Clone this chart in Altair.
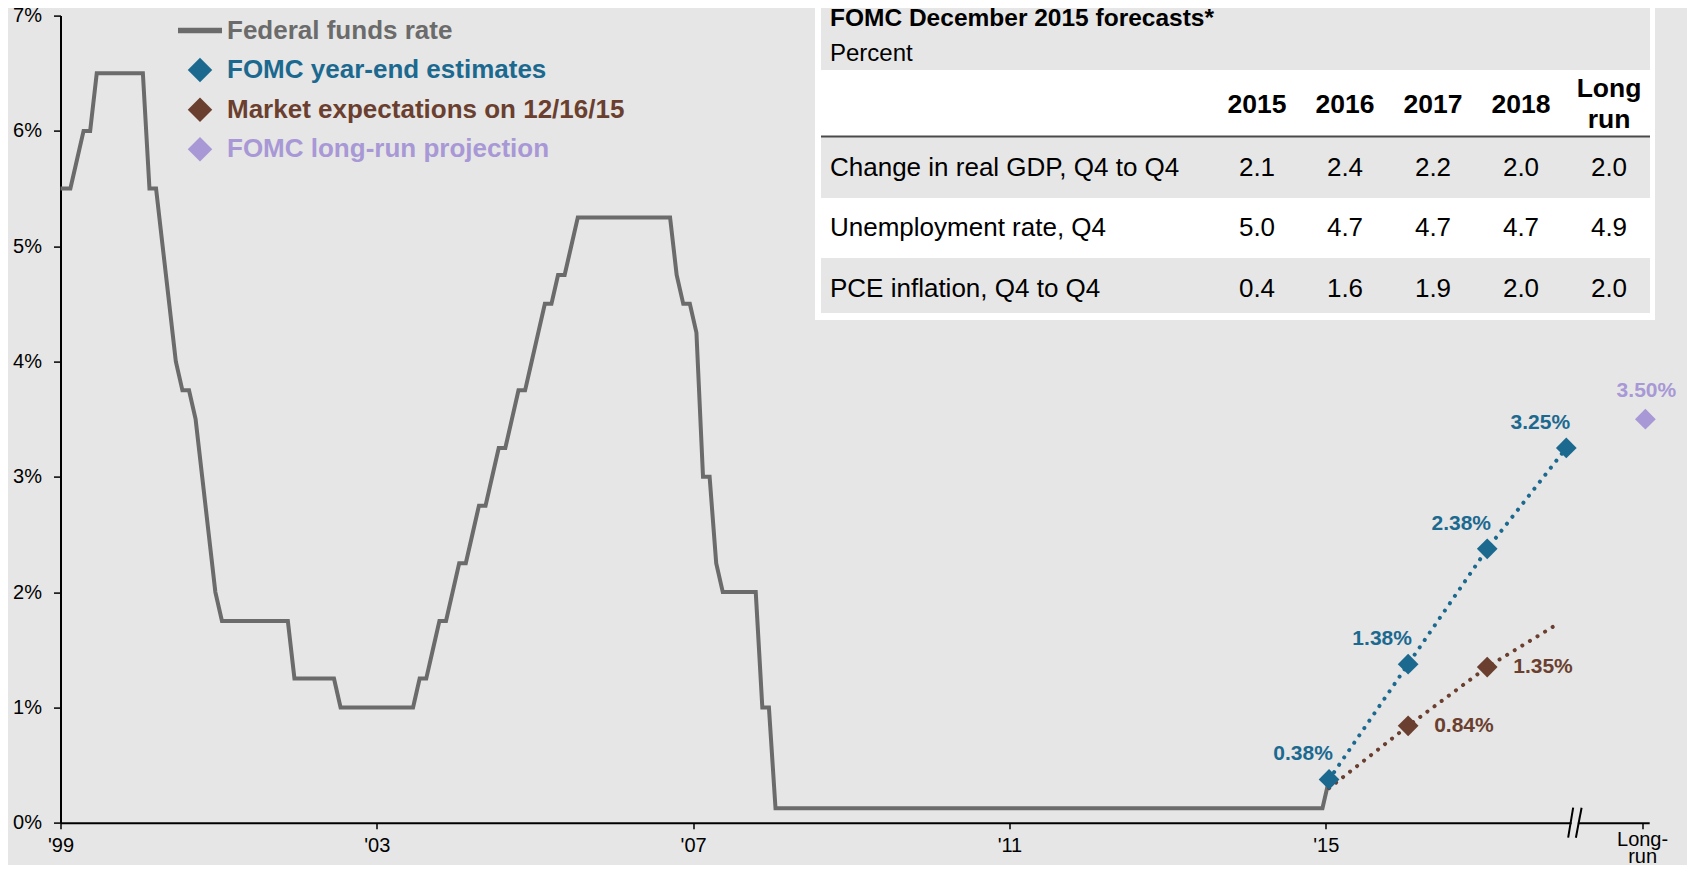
import json
import altair as alt
import pandas as pd

FONT = "Liberation Sans"
BG = "#e6e6e6"
GRAY = "#6b6b6b"
BLUE = "#1c6990"
BROWN = "#6b3f2f"
LAVENDER = "#a898d6"

# ---------------- data ----------------
series_names = ["Federal funds rate", "FOMC year-end estimates",
                "Market expectations on 12/16/15", "FOMC long-run projection"]
series_colors = [GRAY, BLUE, BROWN, LAVENDER]

# Federal funds target rate, month-end values (vertices of the step path)
ffr_months = ["1999-11", "2000-01", "2000-02", "2000-03", "2000-04", "2000-05", "2000-12",
              "2001-01", "2001-02", "2001-03", "2001-04", "2001-05", "2001-06", "2001-07",
              "2001-08", "2001-09", "2001-10", "2001-11", "2001-12", "2002-10", "2002-11",
              "2003-05", "2003-06", "2004-05", "2004-06", "2004-07", "2004-08", "2004-09",
              "2004-10", "2004-11", "2004-12", "2005-01", "2005-02", "2005-03", "2005-04",
              "2005-05", "2005-06", "2005-07", "2005-08", "2005-09", "2005-10", "2005-11",
              "2005-12", "2006-01", "2006-02", "2006-03", "2006-04", "2006-05", "2006-06",
              "2007-08", "2007-09", "2007-10", "2007-11", "2007-12", "2008-01", "2008-02",
              "2008-03", "2008-04", "2008-09", "2008-10", "2008-11", "2008-12", "2015-11",
              "2015-12"]
ffr_rates = [5.50, 5.50, 5.75, 6.00, 6.00, 6.50, 6.50,
             5.50, 5.50, 5.00, 4.50, 4.00, 3.75, 3.75,
             3.50, 3.00, 2.50, 2.00, 1.75, 1.75, 1.25,
             1.25, 1.00, 1.00, 1.25, 1.25, 1.50, 1.75,
             1.75, 2.00, 2.25, 2.25, 2.50, 2.75, 2.75,
             3.00, 3.25, 3.25, 3.50, 3.75, 3.75, 4.00,
             4.25, 4.50, 4.50, 4.75, 4.75, 5.00, 5.25,
             5.25, 4.75, 4.50, 4.50, 4.25, 3.00, 3.00,
             2.25, 2.00, 2.00, 1.00, 1.00, 0.125, 0.125,
             0.375]

fomc_months = ["2015-12", "2016-12", "2017-12", "2018-12"]
fomc_values = [0.375, 1.375, 2.375, 3.25]
fomc_labels = ["0.38%", "1.38%", "2.38%", "3.25%"]

market_path_months = ["2015-12", "2016-12", "2017-12", "2018-10"]
market_path_values = [0.30, 0.84, 1.35, 1.70]
market_months = ["2016-12", "2017-12"]
market_values = [0.84, 1.35]
market_labels = ["0.84%", "1.35%"]

longrun_month = "2019-12"
longrun_value = 3.50
longrun_label = "3.50%"

x_tick_values = [1999, 2003, 2007, 2011, 2015, 2019]
x_tick_labels = ["'99", "'03", "'07", "'11", "'15", ["Long-", "run"]]
y_tick_values = [0, 1, 2, 3, 4, 5, 6, 7]
y_tick_labels = ["0%", "1%", "2%", "3%", "4%", "5%", "6%", "7%"]
axis_break_at = 2018.15

table_title = "FOMC December 2015 forecasts*"
table_unit = "Percent"
table_columns = ["2015", "2016", "2017", "2018", "Long\nrun"]
table_rows = ["Change in real GDP, Q4 to Q4", "Unemployment rate, Q4", "PCE inflation, Q4 to Q4"]
gdp_values = ["2.1", "2.4", "2.2", "2.0", "2.0"]
unemployment_values = ["5.0", "4.7", "4.7", "4.7", "4.9"]
pce_values = ["0.4", "1.6", "1.9", "2.0", "2.0"]


def period_x(ym):
    y, m = ym.split("-")
    return int(y) + (int(m) - 11.5) / 12.0


ffr_df = pd.DataFrame({"x": [period_x(m) for m in ffr_months], "y": ffr_rates})
fomc_df = pd.DataFrame({"x": [period_x(m) for m in fomc_months], "y": fomc_values, "label": fomc_labels})
mkt_line_df = pd.DataFrame({"x": [period_x(m) for m in market_path_months], "y": market_path_values})
mkt_df = pd.DataFrame({"x": [period_x(m) for m in market_months], "y": market_values, "label": market_labels})
lr_df = pd.DataFrame({"x": [period_x(longrun_month)], "y": [longrun_value], "label": [longrun_label]})
brk_df = pd.DataFrame({"x": [axis_break_at], "y": [0.0]})

# ---------------- scales & axes ----------------
x_expr = "".join(f"datum.value == {v} ? {json.dumps(l)} : " for v, l in zip(x_tick_values, x_tick_labels)) + "''"
y_expr = "".join(f"datum.value == {v} ? {json.dumps(l)} : " for v, l in zip(y_tick_values, y_tick_labels)) + "''"
multi_line_test = f"datum.value == {x_tick_values[-1]}"

xscale = alt.Scale(domain=[1999, 2019.09], nice=False, zero=False)
yscale = alt.Scale(domain=[0, 7], nice=False, zero=False)
xaxis = alt.Axis(values=x_tick_values, labelExpr=x_expr, title=None, grid=False,
                 domainColor="black", domainWidth=2, tickColor="black", tickWidth=1.5,
                 tickSize=6,
                 labelPadding={"condition": {"test": multi_line_test, "value": 1}, "value": 7},
                 labelFont=FONT, labelFontSize=20,
                 labelColor="black", labelLineHeight=17, labelOverlap=False, labelFlush=False)
yaxis = alt.Axis(values=y_tick_values, labelExpr=y_expr, title=None, grid=False,
                 domainColor="black", domainWidth=2, tickColor="black", tickWidth=1.5,
                 tickSize=7, labelPadding=12, labelFont=FONT, labelFontSize=20,
                 labelColor="black", labelOverlap=False)


def X():
    return alt.X("x:Q", scale=xscale, axis=xaxis)


def Y():
    return alt.Y("y:Q", scale=yscale, axis=yaxis)


DOT = dict(strokeWidth=4, strokeDash=[0.1, 8.8], strokeCap="round")
ffr_line = alt.Chart(ffr_df).mark_line(color=GRAY, strokeWidth=4, clip=True).encode(x=X(), y=Y())
fomc_line = alt.Chart(fomc_df).mark_line(color=BLUE, **DOT).encode(x=X(), y=Y())
mkt_line = alt.Chart(mkt_line_df).mark_line(color=BROWN, **DOT).encode(x=X(), y=Y())
fomc_pts = alt.Chart(fomc_df).mark_point(shape="diamond", filled=True, size=430, color=BLUE,
                                         opacity=1).encode(x=X(), y=Y())
mkt_pts = alt.Chart(mkt_df).mark_point(shape="diamond", filled=True, size=430, color=BROWN,
                                       opacity=1).encode(x=X(), y=Y())
lr_pts = alt.Chart(lr_df).mark_point(shape="diamond", filled=True, size=430, color=LAVENDER,
                                     opacity=1).encode(x=X(), y=Y())
fomc_txt = alt.Chart(fomc_df).mark_text(font=FONT, fontSize=21, fontWeight="bold", color=BLUE,
                                        align="center", baseline="middle", dx=-26, dy=-25
                                        ).encode(x=X(), y=Y(), text="label:N")
mkt_txt = alt.Chart(mkt_df).mark_text(font=FONT, fontSize=21, fontWeight="bold", color=BROWN,
                                      align="left", baseline="middle", dx=26, dy=0
                                      ).encode(x=X(), y=Y(), text="label:N")
lr_txt = alt.Chart(lr_df).mark_text(font=FONT, fontSize=21, fontWeight="bold", color=LAVENDER,
                                    align="center", baseline="middle", dx=1, dy=-28
                                    ).encode(x=X(), y=Y(), text="label:N")

brk_gap = alt.Chart(brk_df).mark_rule(color=BG, strokeWidth=5, xOffset=-3.3, x2Offset=3.0).encode(
    x=X(), x2=alt.X2("x:Q"), y=Y())
brk1 = alt.Chart(brk_df).mark_rule(color="black", strokeWidth=2, xOffset=-6.7, x2Offset=-1.7,
                                   yOffset=15, y2Offset=-15).encode(
    x=X(), x2=alt.X2("x:Q"), y=Y(), y2=alt.Y2("y:Q"))
brk2 = alt.Chart(brk_df).mark_rule(color="black", strokeWidth=2, xOffset=1.0, x2Offset=6.7,
                                   yOffset=15, y2Offset=-15).encode(
    x=X(), x2=alt.X2("x:Q"), y=Y(), y2=alt.Y2("y:Q"))

main = alt.layer(ffr_line, fomc_line, mkt_line, fomc_pts, mkt_pts, lr_pts,
                 fomc_txt, mkt_txt, lr_txt, brk_gap, brk1, brk2)

# ---------------- table ----------------
one = pd.DataFrame({"k": [0]})
col_scale = alt.Scale(type="point", domain=table_columns, range=[1196.5, 1548.5], padding=0)
row_scale = alt.Scale(type="point", domain=table_rows, range=[152, 273], padding=0)

tbl_box = alt.Chart(one).mark_rect(color="white").encode(
    x=alt.value(754.5), x2=alt.value(1594.5), y=alt.value(-16), y2=alt.value(304.4))
tbl_head_bg = alt.Chart(one).mark_rect(color=BG).encode(
    x=alt.value(760.5), x2=alt.value(1589.5), y=alt.value(-16), y2=alt.value(54.4))
tbl_row1_bg = alt.Chart(one).mark_rect(color=BG).encode(
    x=alt.value(760.5), x2=alt.value(1589.5), y=alt.value(121.4), y2=alt.value(182.4))
tbl_row3_bg = alt.Chart(one).mark_rect(color=BG).encode(
    x=alt.value(760.5), x2=alt.value(1589.5), y=alt.value(242.4), y2=alt.value(297.4))
tbl_rule = alt.Chart(one).mark_rule(color="#4a4a4a", strokeWidth=2).encode(
    x=alt.value(760.5), x2=alt.value(1589.5), y=alt.value(121))

tbl_title = alt.Chart(pd.DataFrame({"t": [table_title]})).mark_text(
    font=FONT, fontSize=24.5, fontWeight="bold", color="black", align="left", baseline="middle"
).encode(x=alt.value(769.5), y=alt.value(3.8), text="t:N")
tbl_unit = alt.Chart(pd.DataFrame({"t": [table_unit]})).mark_text(
    font=FONT, fontSize=24, color="black", align="left", baseline="middle"
).encode(x=alt.value(769.5), y=alt.value(38.4), text="t:N")
HEAD = dict(font=FONT, fontSize=26.5, fontWeight="bold", color="black", align="center",
            baseline="middle", lineBreak="\n", lineHeight=31)
tbl_header = alt.Chart(pd.DataFrame({"col": table_columns[:4]})).mark_text(**HEAD).encode(
    x=alt.X("col:N", scale=col_scale, axis=None), y=alt.value(89.4), text="col:N")
tbl_header_lr = alt.Chart(pd.DataFrame({"col": table_columns[4:]})).mark_text(**HEAD).encode(
    x=alt.X("col:N", scale=col_scale, axis=None), y=alt.value(73.5), text="col:N")
tbl_rowlab = alt.Chart(pd.DataFrame({"row": table_rows})).mark_text(
    font=FONT, fontSize=26, color="black", align="left", baseline="middle"
).encode(x=alt.value(769.5), y=alt.Y("row:N", scale=row_scale, axis=None), text="row:N")

cells = []
for r, vals in zip(table_rows, [gdp_values, unemployment_values, pce_values]):
    for c, v in zip(table_columns, vals):
        cells.append({"row": r, "col": c, "v": v})
tbl_cells = alt.Chart(pd.DataFrame(cells)).mark_text(
    font=FONT, fontSize=26, color="black", align="center", baseline="middle"
).encode(x=alt.X("col:N", scale=col_scale, axis=None),
         y=alt.Y("row:N", scale=row_scale, axis=None), text="v:N")

table = alt.layer(tbl_box, tbl_head_bg, tbl_row1_bg, tbl_row3_bg, tbl_rule,
                  tbl_title, tbl_unit, tbl_header, tbl_header_lr, tbl_rowlab, tbl_cells)

# ---------------- legend ----------------
leg_x_sym, leg_x_txt, leg_y0, leg_dy = 139.5, 166.5, 14.9, 39.6
leg_layers = [
    alt.Chart(pd.DataFrame({"n": [series_names[0]]})).mark_rule(color=GRAY, strokeWidth=5.5).encode(
        x=alt.value(leg_x_sym - 22), x2=alt.value(leg_x_sym + 22), y=alt.value(leg_y0))
]
for i, (name, col) in enumerate(zip(series_names, series_colors)):
    yy = leg_y0 + i * leg_dy
    d = pd.DataFrame({"n": [name]})
    if i > 0:
        leg_layers.append(alt.Chart(d).mark_point(shape="diamond", filled=True, size=600, color=col,
                                                  opacity=1).encode(x=alt.value(leg_x_sym), y=alt.value(yy)))
    leg_layers.append(alt.Chart(d).mark_text(font=FONT, fontSize=26, fontWeight="bold", color=col,
                                             align="left", baseline="middle").encode(
        x=alt.value(leg_x_txt), y=alt.value(yy), text="n:N"))
legend = alt.layer(*leg_layers)

chart = alt.layer(main, table, legend).resolve_scale(x="independent", y="independent").properties(
    width=1588.7, height=807.1,
    padding={"left": 52.5, "top": 7.6, "right": 37.8, "bottom": 42.3},
    autosize=alt.AutoSizeParams(type="none"),
    background=BG,
).configure_view(stroke=None)

chart.save("out.html", embed_options={"renderer": "svg", "actions": False})
